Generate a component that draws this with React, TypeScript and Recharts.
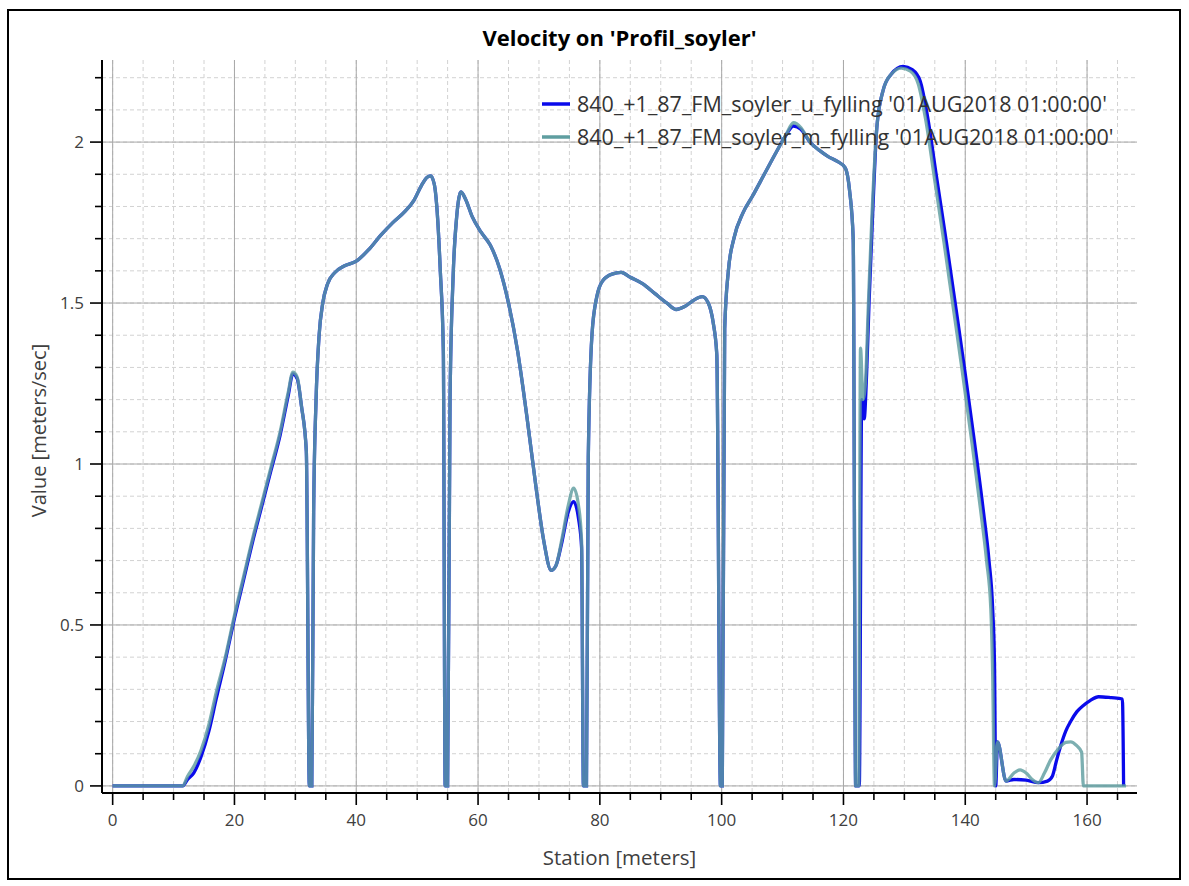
import React from 'react'
import { LineChart, Line, XAxis, YAxis, CartesianGrid, Legend } from 'recharts'

const FONT = '"Open Sans", "Noto Sans", sans-serif'

// 840_+1_87_FM_soyler_u_fylling
const stationU = [
  0, 11.5, 12.3, 13.3, 14.5, 15.8, 17, 18.5, 20, 21.5, 23, 24.5, 26, 27.5, 28.8, 29.6, 30.3, 31, 31.8,
  32.3, 32.7, 33.0, 33.4, 33.9, 34.5, 35.3, 36.5, 38, 40, 42, 44, 46, 48, 49.5, 50.7, 51.6, 52.2, 52.8,
  53.3, 53.8, 54.3, 54.6, 55.0, 55.4, 55.9, 56.5, 57.2, 58, 59, 60.5, 62, 63.5, 65, 66.5, 68, 69.5,
  70.8, 72, 72.8, 73.8, 74.8, 75.7, 76.5, 77.0, 77.3, 77.8, 78.1, 78.7, 79.5, 80.5, 82, 83.5, 85, 87,
  89, 91, 92.5, 94, 95.5, 96.8, 97.8, 98.6, 99.2, 99.8, 100.1, 100.5, 101.1, 102, 103.5, 105, 107, 109,
  110.5, 111.8, 113, 114.5, 116, 117.5, 119, 120.3, 121, 121.6, 122.0, 122.6, 123.0, 123.4, 123.8,
  124.2, 124.8, 125.5, 126.5, 127.8, 129.8, 131.3, 132.6, 133.8, 135.3, 136.9, 138.5, 140, 141.5, 143,
  143.9, 144.5, 144.8, 145.0, 145.3, 146.7, 148, 150, 152, 153.5, 154.3, 155, 155.6, 156.5, 157.3,
  158.3, 159.4, 160.5, 161.9, 164, 165.8, 166,
]
const velocityU = [
  0, 0, 0.02, 0.04, 0.09, 0.17, 0.27, 0.39, 0.52, 0.64, 0.76, 0.87, 0.98, 1.09, 1.21, 1.28, 1.265, 1.18,
  1.04, 0, 0, 0.85, 1.2, 1.4, 1.5, 1.56, 1.595, 1.615, 1.63, 1.665, 1.71, 1.75, 1.785, 1.82, 1.865,
  1.89, 1.895, 1.87, 1.78, 1.6, 1.35, 0, 0, 1.2, 1.58, 1.77, 1.845, 1.82, 1.77, 1.72, 1.68, 1.61, 1.5,
  1.35, 1.15, 0.93, 0.76, 0.67, 0.685, 0.76, 0.85, 0.883, 0.83, 0.74, 0, 0, 1.02, 1.4, 1.52, 1.57,
  1.59, 1.595, 1.58, 1.56, 1.53, 1.5, 1.48, 1.49, 1.51, 1.52, 1.5, 1.44, 1.34, 0, 0, 1.42, 1.6, 1.7,
  1.78, 1.83, 1.9, 1.97, 2.02, 2.05, 2.04, 2.0, 1.975, 1.955, 1.94, 1.92, 1.85, 1.7, 0, 0, 1.2, 1.14,
  1.28, 1.5, 1.78, 2.05, 2.16, 2.21, 2.235, 2.225, 2.19, 2.08, 1.89, 1.69, 1.48, 1.28, 1.07, 0.85, 0.7,
  0.55, 0.38, 0, 0.137, 0.015, 0.02, 0.018, 0.01, 0.015, 0.03, 0.08, 0.12, 0.17, 0.2, 0.23, 0.25,
  0.265, 0.277, 0.274, 0.27, 0,
]

// 840_+1_87_FM_soyler_m_fylling
const stationM = [
  0, 11.5, 12.3, 13.3, 14.5, 15.8, 17, 18.5, 20, 21.5, 23, 24.5, 26, 27.5, 28.8, 29.6, 30.3, 31, 31.8,
  32.3, 32.7, 33.0, 33.4, 33.9, 34.5, 35.3, 36.5, 38, 40, 42, 44, 46, 48, 49.5, 50.7, 51.6, 52.2, 52.8,
  53.3, 53.8, 54.3, 54.6, 55.0, 55.4, 55.9, 56.5, 57.2, 58, 59, 60.5, 62, 63.5, 65, 66.5, 68, 69.5,
  70.8, 72, 72.8, 73.8, 74.8, 75.7, 76.5, 77.0, 77.3, 77.8, 78.1, 78.7, 79.5, 80.5, 82, 83.5, 85, 87,
  89, 91, 92.5, 94, 95.5, 96.8, 97.8, 98.6, 99.2, 99.8, 100.1, 100.5, 101.1, 102, 103.5, 105, 107, 109,
  110.5, 111.8, 113, 114.5, 116, 117.5, 119, 120.3, 121, 121.6, 122.0, 122.5, 122.8, 123.2, 123.6,
  124.1, 124.7, 125.5, 126.5, 127.8, 129.5, 131, 132.3, 133.5, 135, 136.5, 138, 139.5, 141, 142.5,
  143.5, 144.2, 144.5, 144.8, 145.3, 146.7, 148, 149, 150, 151, 152, 153, 154, 155.3, 156.5, 157.3,
  158.3, 159.1, 159.4, 166.4,
]
const velocityM = [
  0, 0, 0.03, 0.06, 0.11, 0.19, 0.29, 0.4, 0.53, 0.65, 0.77, 0.88, 0.99, 1.1, 1.22, 1.285, 1.27, 1.18,
  1.04, 0, 0, 0.85, 1.2, 1.4, 1.5, 1.56, 1.595, 1.615, 1.63, 1.665, 1.71, 1.75, 1.785, 1.82, 1.865,
  1.89, 1.895, 1.87, 1.78, 1.6, 1.35, 0, 0, 1.2, 1.58, 1.77, 1.845, 1.82, 1.77, 1.72, 1.68, 1.61, 1.5,
  1.35, 1.15, 0.93, 0.76, 0.67, 0.685, 0.77, 0.87, 0.925, 0.87, 0.76, 0, 0, 1.02, 1.4, 1.52, 1.57,
  1.59, 1.595, 1.58, 1.56, 1.53, 1.5, 1.48, 1.49, 1.51, 1.52, 1.5, 1.44, 1.34, 0, 0, 1.42, 1.6, 1.7,
  1.78, 1.83, 1.9, 1.97, 2.02, 2.06, 2.045, 2.0, 1.975, 1.955, 1.94, 1.92, 1.85, 1.7, 0, 0, 1.36, 1.2,
  1.25, 1.5, 1.78, 2.05, 2.16, 2.21, 2.23, 2.22, 2.18, 2.07, 1.88, 1.69, 1.49, 1.29, 1.08, 0.86, 0.7,
  0.55, 0.35, 0, 0.137, 0.015, 0.04, 0.05, 0.04, 0.02, 0.01, 0.04, 0.08, 0.115, 0.135, 0.137, 0.125,
  0.105, 0, 0,
]

const seriesNames = [
  "840_+1_87_FM_soyler_u_fylling '01AUG2018 01:00:00'",
  "840_+1_87_FM_soyler_m_fylling '01AUG2018 01:00:00'",
]
const seriesColors = ['#0a0aeb', '#5f9ea0']

const xTicks = [
  0, 5, 10, 15, 20, 25, 30, 35, 40, 45, 50, 55, 60, 65, 70, 75, 80, 85, 90, 95, 100, 105, 110, 115,
  120, 125, 130, 135, 140, 145, 150, 155, 160, 165,
]
const xMajor = [0, 20, 40, 60, 80, 100, 120, 140, 160]
const yTicks = [
  0, 0.1, 0.2, 0.3, 0.4, 0.5, 0.6, 0.7, 0.8, 0.9, 1, 1.1, 1.2, 1.3, 1.4, 1.5, 1.6, 1.7, 1.8, 1.9, 2,
  2.1, 2.2,
]
const yMajor = [0, 0.5, 1, 1.5, 2]

const dataU = stationU.map((s, i) => ({ station: s, value: velocityU[i] }))
const dataM = stationM.map((s, i) => ({ station: s, value: velocityM[i] }))

function XTick(props: any) {
  const { x, y, payload } = props
  const major = xMajor.includes(payload.value)
  return (
    <g>
      <line x1={x} x2={x} y1={y} y2={y + (major ? 12 : 7)} stroke="#000" strokeWidth={1.6} />
      {major && (
        <text x={x} y={y + 33} textAnchor="middle" fill="#404040" fontSize={17} fontFamily={FONT}>
          {payload.value}
        </text>
      )}
    </g>
  )
}

function YTick(props: any) {
  const { x, y, payload } = props
  const major = yMajor.includes(payload.value)
  return (
    <g>
      <line x1={x} x2={x - (major ? 12 : 7)} y1={y} y2={y} stroke="#000" strokeWidth={1.6} />
      {major && (
        <text x={x - 18} y={y} dy={6} textAnchor="end" fill="#404040" fontSize={17} fontFamily={FONT}>
          {payload.value}
        </text>
      )}
    </g>
  )
}

function YLabel(props: any) {
  const { viewBox } = props
  const cy = viewBox.y + viewBox.height / 2 + 4
  return (
    <text
      x={38}
      y={cy}
      transform={`rotate(-90 38 ${cy})`}
      textAnchor="middle"
      dominantBaseline="central"
      fill="#404040"
      fontSize={20}
      fontFamily={FONT}
    >
      Value [meters/sec]
    </text>
  )
}

function LegendBox() {
  return (
    <div style={{ fontFamily: FONT, fontSize: 21.5, color: '#333', lineHeight: '33px' }}>
      {seriesNames.map((name, i) => (
        <div key={name} style={{ display: 'flex', alignItems: 'center', whiteSpace: 'nowrap' }}>
          <svg width={28} height={4} style={{ display: 'block' }}>
            <line x1={0} x2={28} y1={2} y2={2} stroke={seriesColors[i]} strokeWidth={3.5} />
          </svg>
          <span style={{ marginLeft: 7 }}>{name}</span>
        </div>
      ))}
    </div>
  )
}

export default function App() {
  return (
    <div style={{ position: 'absolute', left: 0, top: 0, width: 1189, height: 886, background: '#fff' }}>
      <div
        style={{
          position: 'absolute',
          left: 7,
          top: 9,
          width: 1174,
          height: 871,
          border: '2px solid #000',
          boxSizing: 'border-box',
        }}
      />
      <div
        style={{
          position: 'absolute',
          left: 102,
          width: 1035,
          top: 22,
          textAlign: 'center',
          fontFamily: FONT,
          fontWeight: 700,
          fontSize: 22,
          color: '#000',
        }}
      >
        Velocity on 'Profil_soyler'
      </div>
      <div style={{ position: 'absolute', left: 0, top: 0 }}>
        <LineChart width={1189} height={886} margin={{ top: 60, right: 52, bottom: 13, left: 22 }}>
          <CartesianGrid
            stroke="#d2d2d2"
            strokeDasharray="4 3"
            verticalValues={xTicks}
            horizontalValues={yTicks}
          />
          <CartesianGrid stroke="#a8a8a8" verticalValues={xMajor} horizontalValues={yMajor} />
          <XAxis
            dataKey="station"
            type="number"
            domain={[-1.75, 168.2]}
            allowDataOverflow
            ticks={xTicks}
            interval={0}
            tickSize={0}
            tickMargin={0}
            tickLine={false}
            tick={<XTick />}
            height={80}
            axisLine={{ stroke: '#000', strokeWidth: 2 }}
            label={{
              value: 'Station [meters]',
              position: 'insideBottom',
              offset: 8,
              fill: '#404040',
              fontSize: 20.5,
              fontFamily: FONT,
            }}
          />
          <XAxis
            xAxisId="top"
            orientation="top"
            type="number"
            domain={[-1.75, 168.2]}
            allowDataOverflow
            height={0}
            tick={false}
            tickLine={false}
            axisLine={{ stroke: '#000', strokeWidth: 1.5 }}
          />
          <YAxis
            type="number"
            domain={[-0.022, 2.255]}
            allowDataOverflow
            ticks={yTicks}
            interval={0}
            tickSize={0}
            tickMargin={0}
            tickLine={false}
            tick={<YTick />}
            width={80}
            axisLine={{ stroke: '#000', strokeWidth: 2 }}
            label={{ content: <YLabel /> }}
          />
          <YAxis
            yAxisId="right"
            orientation="right"
            type="number"
            domain={[-0.022, 2.255]}
            allowDataOverflow
            width={0}
            tick={false}
            tickLine={false}
            axisLine={{ stroke: '#000', strokeWidth: 1.5 }}
          />
          <Legend
            layout="vertical"
            align="center"
            verticalAlign="middle"
            content={<LegendBox />}
            wrapperStyle={{ position: 'absolute', top: 87, left: 542, width: 'auto' }}
          />
          <Line
            data={dataU}
            dataKey="value"
            name={seriesNames[0]}
            type="monotone"
            stroke={seriesColors[0]}
            strokeWidth={3.3}
            dot={false}
            activeDot={false}
            isAnimationActive={false}
          />
          <Line
            data={dataM}
            dataKey="value"
            name={seriesNames[1]}
            type="monotone"
            stroke={seriesColors[1]}
            strokeOpacity={0.82}
            strokeWidth={3.3}
            dot={false}
            activeDot={false}
            isAnimationActive={false}
          />
        </LineChart>
      </div>
    </div>
  )
}
